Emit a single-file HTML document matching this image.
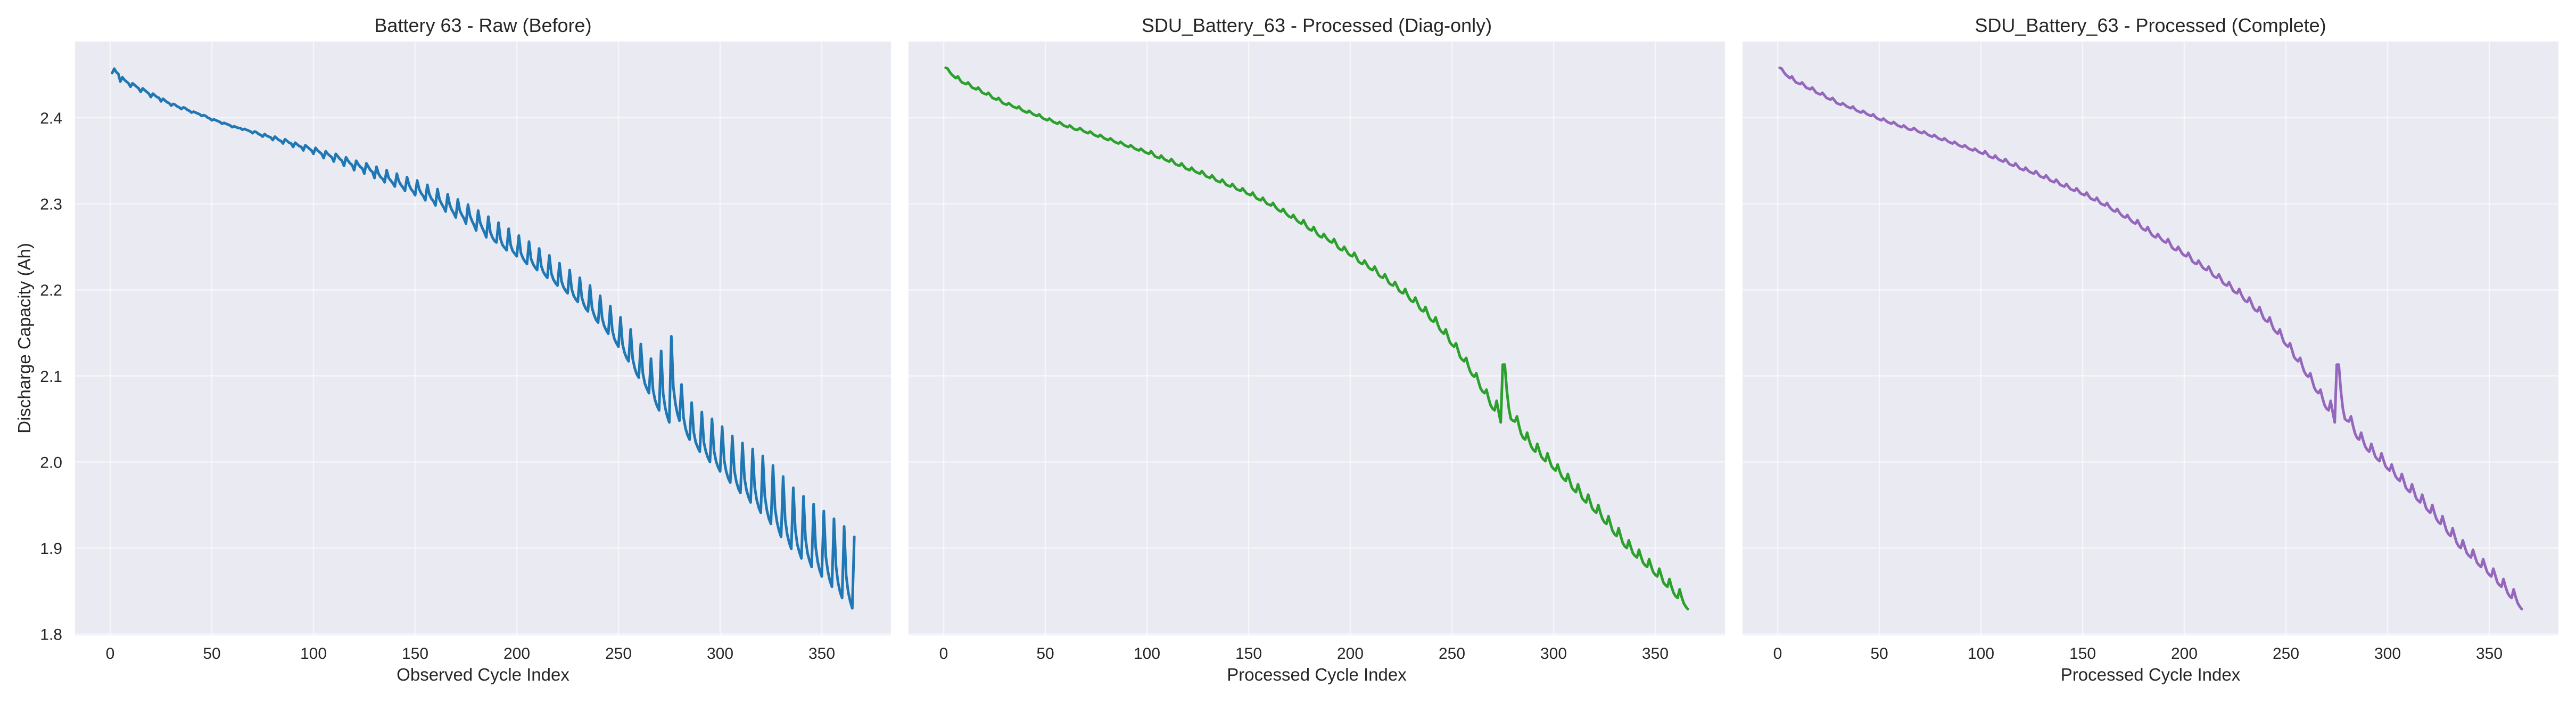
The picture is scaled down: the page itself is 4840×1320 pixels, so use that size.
<!DOCTYPE html>
<html><head><meta charset="utf-8"><title>Battery 63 capacity</title>
<style>
html,body{margin:0;padding:0;background:#fff;}
svg{display:block;font-family:"Liberation Sans",Arial,sans-serif;}
</style></head>
<body>
<svg id="chart" width="4840" height="1320" viewBox="0 0 4840 1320" xmlns="http://www.w3.org/2000/svg"></svg>
<script>
// ---- data ----
const xTicks = [0, 50, 100, 150, 200, 250, 300, 350];
const yTicks = [1.8, 1.9, 2.0, 2.1, 2.2, 2.3, 2.4];
const yTickLabels = ["1.8", "1.9", "2.0", "2.1", "2.2", "2.3", "2.4"];
const panelTitles = ["Battery 63 - Raw (Before)", "SDU_Battery_63 - Processed (Diag-only)", "SDU_Battery_63 - Processed (Complete)"];
const xAxisTitles = ["Observed Cycle Index", "Processed Cycle Index", "Processed Cycle Index"];
const startCycle = 1;

const rawValues = [
2.452,2.457,2.453,2.451,2.442,
2.447,2.444,2.442,2.440,2.436,
2.440,2.438,2.436,2.434,2.430,
2.434,2.432,2.430,2.428,2.424,
2.428,2.426,2.424,2.423,2.419,
2.422,2.420,2.418,2.417,2.414,
2.416,2.415,2.413,2.412,2.410,
2.412,2.411,2.409,2.408,2.406,
2.407,2.406,2.405,2.404,2.402,
2.403,2.402,2.400,2.399,2.397,
2.398,2.397,2.396,2.395,2.393,
2.394,2.393,2.392,2.391,2.389,
2.390,2.389,2.388,2.388,2.386,
2.387,2.386,2.385,2.384,2.382,
2.384,2.383,2.381,2.380,2.378,
2.381,2.379,2.378,2.377,2.374,
2.378,2.376,2.374,2.373,2.370,
2.375,2.373,2.371,2.370,2.366,
2.371,2.369,2.367,2.366,2.362,
2.368,2.366,2.364,2.362,2.358,
2.365,2.362,2.360,2.358,2.353,
2.361,2.358,2.356,2.354,2.349,
2.358,2.355,2.352,2.350,2.344,
2.354,2.350,2.347,2.345,2.339,
2.350,2.346,2.343,2.341,2.335,
2.347,2.343,2.339,2.337,2.330,
2.343,2.335,2.331,2.329,2.325,
2.339,2.330,2.327,2.324,2.320,
2.335,2.326,2.322,2.319,2.315,
2.331,2.322,2.317,2.314,2.310,
2.327,2.317,2.312,2.309,2.304,
2.322,2.311,2.306,2.303,2.298,
2.317,2.305,2.300,2.296,2.291,
2.311,2.299,2.293,2.289,2.284,
2.305,2.292,2.287,2.283,2.277,
2.299,2.286,2.280,2.275,2.269,
2.292,2.278,2.272,2.267,2.261,
2.285,2.267,2.261,2.257,2.255,
2.278,2.259,2.252,2.249,2.246,
2.271,2.252,2.245,2.242,2.239,
2.263,2.243,2.237,2.233,2.230,
2.256,2.236,2.230,2.226,2.223,
2.248,2.228,2.221,2.217,2.214,
2.240,2.219,2.212,2.208,2.205,
2.231,2.210,2.203,2.199,2.196,
2.223,2.201,2.193,2.189,2.186,
2.214,2.191,2.183,2.178,2.175,
2.205,2.179,2.171,2.165,2.162,
2.193,2.167,2.158,2.153,2.149,
2.181,2.153,2.143,2.138,2.134,
2.168,2.137,2.127,2.121,2.117,
2.154,2.120,2.109,2.102,2.098,
2.137,2.103,2.091,2.085,2.080,
2.120,2.084,2.072,2.065,2.060,
2.129,2.079,2.063,2.053,2.046,
2.146,2.087,2.068,2.056,2.048,
2.090,2.052,2.039,2.031,2.026,
2.069,2.035,2.023,2.017,2.012,
2.058,2.023,2.012,2.005,2.000,
2.050,2.013,2.001,1.994,1.989,
2.041,2.002,1.989,1.981,1.976,
2.030,1.990,1.977,1.969,1.964,
2.022,1.981,1.967,1.959,1.953,
2.015,1.971,1.956,1.947,1.941,
2.007,1.960,1.944,1.934,1.928,
1.996,1.946,1.930,1.920,1.913,
1.983,1.933,1.916,1.906,1.899,
1.970,1.921,1.904,1.895,1.888,
1.960,1.911,1.894,1.885,1.878,
1.951,1.901,1.884,1.874,1.867,
1.943,1.890,1.873,1.862,1.855,
1.934,1.879,1.860,1.849,1.842,
1.925,1.868,1.849,1.838,1.830,
1.913];

const diagValues = [
2.458,2.457,2.453,2.450,2.448,
2.446,2.448,2.444,2.441,2.440,
2.439,2.441,2.438,2.435,2.434,
2.433,2.435,2.432,2.429,2.428,
2.427,2.429,2.426,2.423,2.422,
2.421,2.423,2.420,2.417,2.416,
2.415,2.417,2.415,2.413,2.412,
2.411,2.413,2.410,2.408,2.407,
2.406,2.408,2.406,2.404,2.403,
2.402,2.404,2.401,2.399,2.398,
2.397,2.399,2.397,2.395,2.394,
2.393,2.395,2.393,2.391,2.390,
2.389,2.391,2.389,2.387,2.386,
2.386,2.388,2.386,2.384,2.383,
2.382,2.384,2.382,2.380,2.379,
2.378,2.380,2.378,2.376,2.375,
2.374,2.376,2.374,2.372,2.371,
2.370,2.372,2.370,2.368,2.367,
2.366,2.368,2.366,2.364,2.363,
2.362,2.364,2.362,2.360,2.359,
2.358,2.361,2.358,2.355,2.354,
2.353,2.356,2.353,2.351,2.350,
2.349,2.352,2.349,2.346,2.345,
2.344,2.347,2.344,2.341,2.340,
2.339,2.342,2.339,2.337,2.336,
2.335,2.338,2.335,2.332,2.331,
2.330,2.333,2.330,2.327,2.326,
2.325,2.328,2.325,2.322,2.321,
2.320,2.323,2.320,2.317,2.316,
2.315,2.318,2.315,2.312,2.311,
2.310,2.313,2.309,2.306,2.305,
2.304,2.307,2.303,2.300,2.299,
2.298,2.301,2.297,2.294,2.292,
2.291,2.294,2.290,2.287,2.285,
2.284,2.287,2.283,2.280,2.278,
2.277,2.281,2.276,2.272,2.270,
2.269,2.273,2.268,2.264,2.262,
2.261,2.265,2.261,2.258,2.256,
2.255,2.259,2.254,2.249,2.247,
2.246,2.250,2.246,2.242,2.240,
2.239,2.243,2.238,2.233,2.231,
2.230,2.234,2.230,2.226,2.224,
2.223,2.227,2.222,2.217,2.215,
2.214,2.218,2.213,2.208,2.206,
2.205,2.209,2.204,2.199,2.197,
2.196,2.201,2.195,2.190,2.187,
2.186,2.191,2.185,2.179,2.176,
2.175,2.180,2.173,2.167,2.164,
2.163,2.168,2.160,2.154,2.151,
2.149,2.154,2.146,2.139,2.136,
2.134,2.138,2.130,2.122,2.119,
2.117,2.121,2.112,2.105,2.101,
2.099,2.103,2.094,2.086,2.082,
2.080,2.084,2.074,2.066,2.062,
2.060,2.071,2.058,2.046,2.113,
2.113,2.083,2.062,2.050,2.048,
2.047,2.053,2.042,2.033,2.028,
2.026,2.034,2.025,2.018,2.014,
2.012,2.021,2.013,2.006,2.003,
2.001,2.010,2.002,1.995,1.992,
1.990,1.997,1.989,1.983,1.980,
1.978,1.986,1.978,1.970,1.967,
1.965,1.974,1.966,1.958,1.955,
1.953,1.962,1.954,1.946,1.943,
1.941,1.950,1.941,1.934,1.930,
1.928,1.937,1.928,1.920,1.916,
1.914,1.923,1.914,1.906,1.902,
1.900,1.909,1.901,1.894,1.891,
1.889,1.898,1.890,1.883,1.880,
1.878,1.887,1.879,1.872,1.869,
1.867,1.876,1.868,1.860,1.857,
1.855,1.864,1.855,1.848,1.844,
1.842,1.852,1.843,1.836,1.832,
1.829];

const completeValues = diagValues.slice();

// ---- layout ----
const NS = "http://www.w3.org/2000/svg";
const svg = document.getElementById("chart");
const plotTop = 78, plotBottom = 1193;
const panels = [
  {left: 141, right: 1674, x0: 207, values: rawValues, color: "#1f77b4", key: "raw"},
  {left: 1707, right: 3241, x0: 1773, values: diagValues, color: "#2ca02c", key: "diag-only"},
  {left: 3274, right: 4807, x0: 3340, values: completeValues, color: "#9467bd", key: "complete"}
];
const pxPerCycle = 3.82;
function yScale(v){ return 221 + (2.4 - v) * 1616; }

function mk(tag, attrs, parent){
  const el = document.createElementNS(NS, tag);
  for (const k in attrs) el.setAttribute(k, attrs[k]);
  (parent || svg).appendChild(el);
  return el;
}

panels.forEach(function(p, pi){
  const xScale = function(c){ return p.x0 + c * pxPerCycle; };
  const g = mk("g", {});
  
  

  const bg = mk("rect", {x: p.left, y: plotTop, width: p.right - p.left, height: plotBottom - plotTop, fill: "#eaeaf2"}, g);
  
  

  xTicks.forEach(function(t){
    const x = xScale(t);
    const gl = mk("line", {x1: x, x2: x, y1: plotTop, y2: plotBottom, stroke: "#ffffff", "stroke-opacity": 0.55, "stroke-width": 2.5}, g);
    
    
    const tl = mk("text", {x: x, y: 1237, "text-anchor": "middle", "font-size": 30, fill: "#262626"}, g);
    tl.textContent = String(t);
    
    
  });
  yTicks.forEach(function(t, i){
    const y = yScale(t);
    const gl = mk("line", {x1: p.left, x2: p.right, y1: y, y2: y, stroke: "#ffffff", "stroke-opacity": 0.55, "stroke-width": 2.5}, g);
    
    
    if (pi === 0) {
      const tl = mk("text", {x: 117, y: y + 11, "text-anchor": "end", "font-size": 30, fill: "#262626"}, g);
      tl.textContent = yTickLabels[i];
      
      
    }
  });

  let d = "";
  p.values.forEach(function(v, i){
    d += (i ? "L" : "M") + xScale(startCycle + i).toFixed(2) + "," + yScale(v).toFixed(2);
  });
  const line = mk("path", {d: d, fill: "none", stroke: p.color, "stroke-width": 5, "stroke-linejoin": "round", "stroke-linecap": "round"}, g);
  
  

  const title = mk("text", {x: (p.left + p.right) / 2, y: 60, "text-anchor": "middle", "font-size": 36, fill: "#262626"}, g);
  title.textContent = panelTitles[pi];
  
  

  const xl = mk("text", {x: (p.left + p.right) / 2, y: 1278, "text-anchor": "middle", "font-size": 33, fill: "#262626"}, g);
  xl.textContent = xAxisTitles[pi];
  
  
});

const yl = mk("text", {x: 0, y: 0, "text-anchor": "middle", "font-size": 33, fill: "#262626", transform: "translate(57,635) rotate(-90)"});
yl.textContent = "Discharge Capacity (Ah)";


</script>
</body></html>
